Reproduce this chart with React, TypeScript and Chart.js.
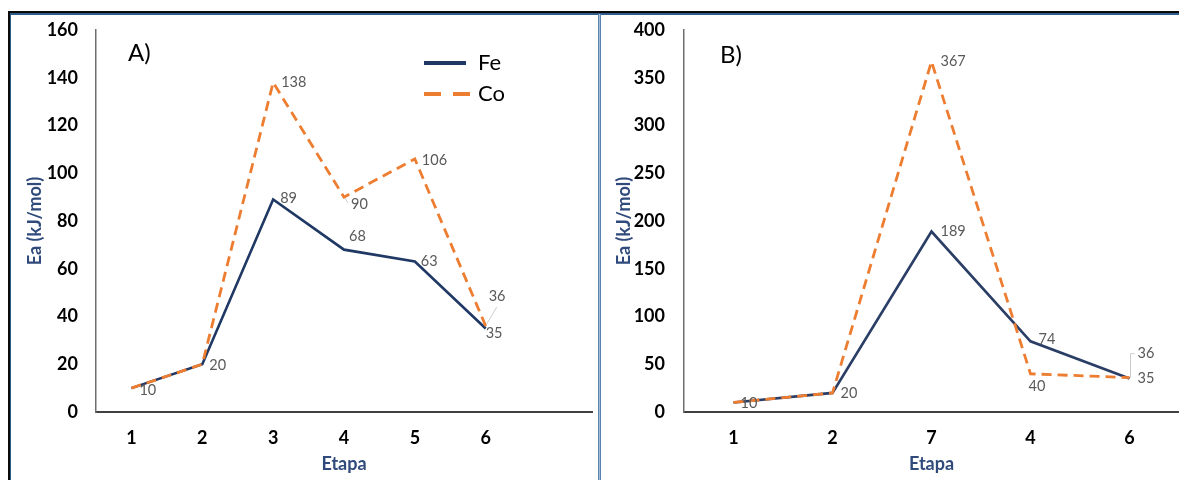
import React, { useEffect, useRef } from 'react';
import { Chart, registerables } from 'chart.js';

Chart.register(...registerables);

// ---------- data ----------
const stepsA = ['1', '2', '3', '4', '5', '6', ''];
const feA = [10, 20, 89, 68, 63, 35];
const coA = [10, 20, 138, 90, 106, 36];
const yMaxA = 160;
const yStepA = 20;

const stepsB = ['1', '2', '7', '4', '6'];
const feB = [10, 20, 189, 74, 35];
const coB = [10, 20, 367, 40, 36];
const yMaxB = 400;
const yStepB = 50;

const seriesNames = ['Fe', 'Co'];
const yTitle = 'Ea (kJ/mol)';
const xTitle = 'Etapa';

// ---------- label placement (style only) ----------
type Lbl = { dx: number; dy: number; leader?: number[][] } | null;
const feLabelsA: Lbl[] = [
  { dx: 8, dy: 2 }, { dx: 7, dy: 1 }, { dx: 7, dy: -1 }, { dx: 5, dy: -13 }, { dx: 6, dy: 0 }, { dx: 0, dy: 5 },
];
const coLabelsA: Lbl[] = [
  null, null, { dx: 8, dy: 0 }, { dx: 7, dy: 7, leader: [[1, 1], [4, 6]] }, { dx: 7, dy: 1 },
  { dx: 3, dy: -30, leader: [[1, -2], [11, -19]] },
];
const feLabelsB: Lbl[] = [
  { dx: 7, dy: 1 }, { dx: 8, dy: 0 }, { dx: 9, dy: 0 }, { dx: 8, dy: -2 }, { dx: 8, dy: 0 },
];
const coLabelsB: Lbl[] = [
  null, null, { dx: 9, dy: 0 }, { dx: -2, dy: 13 }, { dx: 8, dy: -24, leader: [[1, 0], [1, -24], [5, -24]] },
];

const FONT = 'Lato';
const FE_A = '#1F3864';
const FE_B = '#2B3E66';
const CO = '#ED7D31';
const TITLE_COLOR = '#2F4A7B';

function makePointLabels(cfg: Lbl[][]) {
  return {
    id: 'pointLabels',
    afterDatasetsDraw(chart: any) {
      const ctx = chart.ctx;
      ctx.save();
      ctx.font = `14.5px ${FONT}`;
      ctx.fillStyle = '#595959';
      ctx.textAlign = 'left';
      ctx.textBaseline = 'middle';
      chart.data.datasets.forEach((ds: any, di: number) => {
        const meta = chart.getDatasetMeta(di);
        meta.data.forEach((el: any, i: number) => {
          const c = cfg[di] && cfg[di][i];
          if (!c) return;
          const x = el.x;
          const y = el.y;
          if (c.leader) {
            ctx.strokeStyle = '#BFBFBF';
            ctx.lineWidth = 0.8;
            ctx.beginPath();
            c.leader.forEach(([lx, ly], k) => {
              if (k === 0) ctx.moveTo(x + lx, y + ly);
              else ctx.lineTo(x + lx, y + ly);
            });
            ctx.stroke();
          }
          ctx.fillText(String(ds.data[i]), x + c.dx, y + c.dy);
        });
      });
      ctx.restore();
    },
  };
}

function makeDecor(panel: string, px: number, py: number, legend: boolean) {
  return {
    id: 'decor',
    afterDraw(chart: any) {
      const { ctx, chartArea: a } = chart;
      ctx.save();
      ctx.fillStyle = '#000';
      ctx.font = `24px ${FONT}`;
      ctx.textAlign = 'left';
      ctx.textBaseline = 'middle';
      ctx.fillText(panel, a.left + px, a.top + py);
      if (legend) {
        chart.data.datasets.forEach((ds: any, i: number) => {
          const y = a.top + 33 + i * 31;
          const dashed = ds.borderDash && ds.borderDash.length;
          ctx.save();
          ctx.strokeStyle = ds.borderColor;
          ctx.lineWidth = 4;
          ctx.setLineDash(dashed ? [17, 12] : []);
          ctx.beginPath();
          ctx.moveTo(a.left + 328, y);
          ctx.lineTo(a.left + (dashed ? 374 : 370), y);
          ctx.stroke();
          ctx.restore();
          ctx.fillStyle = '#000';
          ctx.font = `22px ${FONT}`;
          ctx.fillText(ds.label, a.left + 382, y);
        });
      }
      ctx.restore();
    },
  };
}

function buildConfig(
  labels: string[], fe: number[], co: number[], feColor: string,
  yMax: number, yStep: number, yWidth: number, padRight: number,
  yTickPad: number, yTitlePad: number,
  lbls: Lbl[][], panel: string, px: number, py: number, legend: boolean,
): any {
  const tickFont = { family: FONT, size: 18, weight: 'bold' as const };
  const titleFont = { family: FONT, size: 18, weight: 'bold' as const };
  return {
    type: 'line',
    data: {
      labels,
      datasets: [
        {
          label: seriesNames[0], data: fe, borderColor: feColor, backgroundColor: feColor,
          borderWidth: 2.6, pointRadius: 0, tension: 0, order: 2, fill: false,
        },
        {
          label: seriesNames[1], data: co, borderColor: CO, backgroundColor: CO,
          borderWidth: 2.8, borderDash: [10, 6], pointRadius: 0, tension: 0, order: 1, fill: false,
        },
      ],
    },
    options: {
      responsive: false,
      animation: false,
      devicePixelRatio: 1,
      layout: { padding: { top: 15, right: padRight, left: 0, bottom: 0 } },
      plugins: { legend: { display: false }, tooltip: { enabled: false } },
      scales: {
        x: {
          type: 'category',
          offset: true,
          grid: { display: false, drawTicks: false },
          border: { display: true, color: '#404040', width: 2 },
          ticks: { padding: 15, color: '#000', font: tickFont, autoSkip: false, maxRotation: 0 },
          title: {
            display: true, text: xTitle, color: TITLE_COLOR,
            font: titleFont, padding: { top: 0, bottom: 5 },
          },
          afterFit: (s: any) => {
            s.height = 68;
            s.paddingLeft = 0;
            s.paddingRight = 0;
          },
        },
        y: {
          min: 0,
          max: yMax,
          grid: { display: false, drawTicks: false },
          border: { display: true, color: '#6E6E6E', width: 1.5 },
          ticks: { stepSize: yStep, padding: yTickPad, color: '#000', font: tickFont },
          title: {
            display: true, text: yTitle, color: TITLE_COLOR,
            font: titleFont, padding: { top: yTitlePad, bottom: 0 },
          },
          afterFit: (s: any) => {
            s.width = yWidth;
            s.paddingTop = 0;
            s.paddingBottom = 0;
          },
        },
      },
    },
    plugins: [makePointLabels(lbls), makeDecor(panel, px, py, legend)],
  };
}

function ChartCanvas({ config, width, height, left, top }: any) {
  const ref = useRef<HTMLCanvasElement | null>(null);
  useEffect(() => {
    if (!ref.current) return;
    const chart = new Chart(ref.current, config);
    return () => chart.destroy();
  }, []);
  return (
    <canvas
      ref={ref}
      width={width}
      height={height}
      style={{ position: 'absolute', left, top, width, height }}
    />
  );
}

export default function App() {
  const cfgA = buildConfig(stepsA, feA, coA, FE_A, yMaxA, yStepA, 85, 6, 18, 13,
    [feLabelsA, coLabelsA], 'A)', 32, 23, true);
  const cfgB = buildConfig(stepsB, feB, coB, FE_B, yMaxB, yStepB, 82, 0, 19, 11,
    [feLabelsB, coLabelsB], 'B)', 36, 25, false);
  return (
    <div style={{ position: 'absolute', left: 0, top: 0, width: 1179, height: 480, background: '#fff', overflow: 'hidden' }}>
      {/* frame */}
      <div style={{ position: 'absolute', left: 8, top: 11, width: 1171, height: 2, background: '#0B0B0B' }} />
      <div style={{ position: 'absolute', left: 8, top: 13, width: 1171, height: 1.5, background: '#2E5C8A' }} />
      <div style={{ position: 'absolute', left: 8, top: 11, width: 2, height: 469, background: '#0B0B0B' }} />
      <div style={{ position: 'absolute', left: 10, top: 13, width: 1.2, height: 467, background: '#2E5C8A' }} />
      <div style={{ position: 'absolute', left: 598, top: 14, width: 3, height: 466, background: '#5A84AE' }} />
      <div style={{ position: 'absolute', left: 599, top: 14, width: 1, height: 466, background: '#A3BBD3' }} />
      <ChartCanvas config={cfgA} width={587} height={465} left={11} top={15} />
      <ChartCanvas config={cfgB} width={577} height={465} left={602} top={15} />
    </div>
  );
}
